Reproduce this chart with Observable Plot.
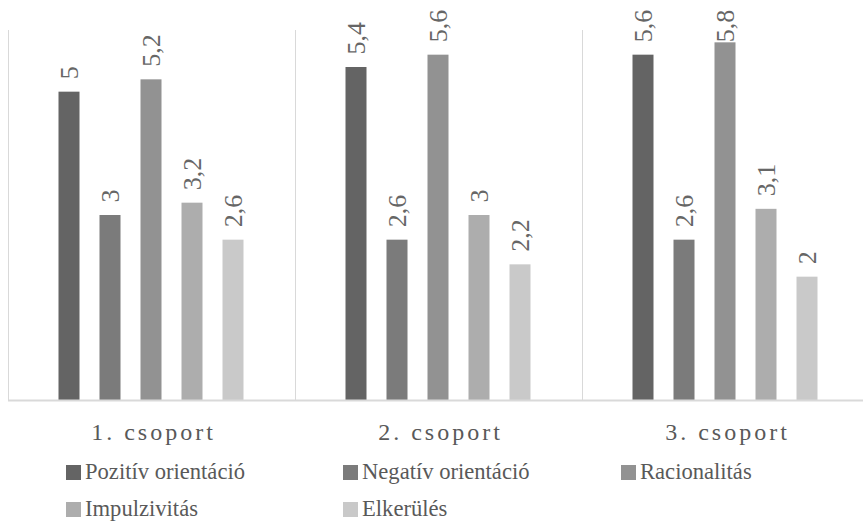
<!DOCTYPE html>
<html>
<head>
<meta charset="utf-8">
<script src="https://cdn.jsdelivr.net/npm/d3@7"></script>
<script src="https://cdn.jsdelivr.net/npm/@observablehq/plot@0.6"></script>
<style>
  html, body { margin: 0; padding: 0; background: #fff; overflow: hidden; }
  #wrap { position: relative; width: 863px; height: 530px; font-family: "Liberation Serif", "DejaVu Serif", serif; }
  #wrap svg { position: absolute; left: 0; top: 0; overflow: visible; }
  #wrap svg text { font-family: "Liberation Serif", "DejaVu Serif", serif; }
  #wrap svg g[aria-label="fx-axis tick label"] text { letter-spacing: 3px; }
  .leg { position: absolute; font-family: "Liberation Serif", "DejaVu Serif", serif; font-size: 22.6px; color: #595959; white-space: nowrap; line-height: 1; }
  .leg .sw { position: absolute; width: 15px; height: 15px; left: 0; }
  .leg .tx { position: absolute; left: 19px; }
</style>
</head>
<body>
<div id="wrap"></div>
<script>
const groups = ["1. csoport", "2. csoport", "3. csoport"];
const series = ["Pozitív orientáció", "Negatív orientáció", "Racionalitás", "Impulzivitás", "Elkerülés"];
const colors = ["#646464", "#7b7b7b", "#929292", "#adadad", "#c9c9c9"];
const values1 = [5, 3, 5.2, 3.2, 2.6];
const values2 = [5.4, 2.6, 5.6, 3, 2.2];
const values3 = [5.6, 2.6, 5.8, 3.1, 2];
const labelText = ["5", "3", "5,2", "3,2", "2,6", "5,4", "2,6", "5,6", "3", "2,2", "5,6", "2,6", "5,8", "3,1", "2"];

const allValues = [values1, values2, values3];
const data = [];
groups.forEach((g, gi) => series.forEach((s, si) => {
  data.push({group: g, series: s, value: allValues[gi][si], label: labelText[gi * series.length + si]});
}));

const serif = "'Liberation Serif', 'DejaVu Serif', serif";
const W = 863, H = 455;
const chart = Plot.plot({
  width: W,
  height: H,
  marginTop: 30,
  marginBottom: 55,
  marginLeft: 7.5,
  marginRight: -5.5,
  style: {fontFamily: serif, color: "#595959", background: "transparent"},
  fx: {domain: groups, padding: 0, label: null},
  x: {domain: series, paddingInner: 0.48, paddingOuter: 1.17, axis: null},
  y: {domain: [0, 6], axis: null},
  color: {domain: series, range: colors},
  marks: [
    Plot.frame({anchor: "left", stroke: "#d9d9d9", strokeWidth: 1}),
    Plot.barY(data, {fx: "group", x: "series", y: "value", fill: "series"}),
    Plot.ruleY([0], {stroke: "#d9d9d9", strokeWidth: 2}),
    // Excel keeps the tallest labels inside the plot area
    Plot.text(data, {fx: "group", x: "series", y: d => Math.min(d.value, 5.6), text: "label",
      rotate: -90, textAnchor: "start", dy: -13, fontSize: 26, fill: "#666666", fontFamily: serif}),
    Plot.axisFx({anchor: "bottom", tickSize: 0, tickPadding: 22, fontSize: 24, fill: "#595959", label: null, dx: 1.5, fontFamily: serif})
  ]
});
const wrap = document.getElementById("wrap");
wrap.appendChild(chart);

// legend (HTML, below the plot)
const legCols = [66, 343, 621];
const legRows = [465, 502];
series.forEach((s, i) => {
  const row = Math.floor(i / 3), col = i % 3;
  const el = document.createElement("div");
  el.className = "leg";
  el.style.left = legCols[col] + "px";
  el.style.top = legRows[row] + "px";
  el.innerHTML = `<span class="sw" style="background:${colors[i]};top:0px"></span><span class="tx" style="top:-4px">${s}</span>`;
  wrap.appendChild(el);
});
</script>
</body>
</html>
